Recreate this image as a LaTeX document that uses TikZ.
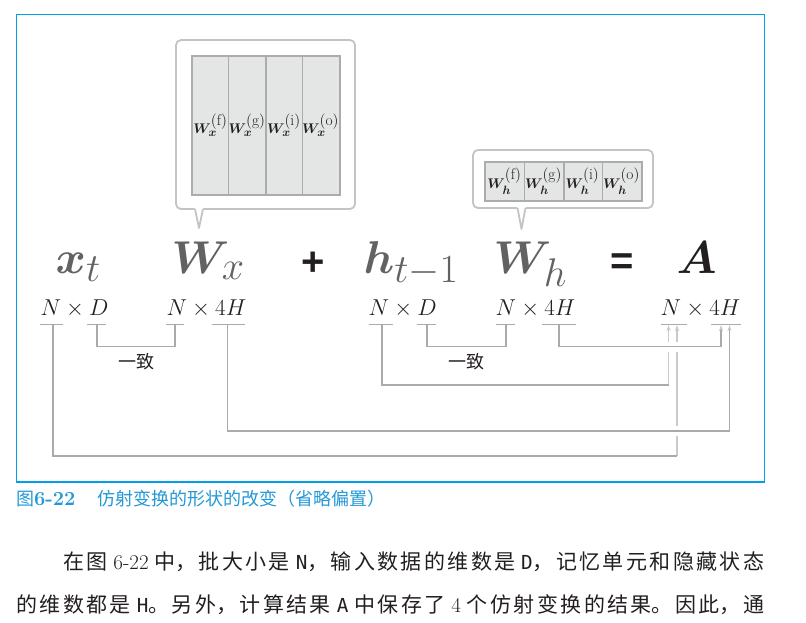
\RequirePackage{fix-cm}
\documentclass[tikz,border=0pt]{standalone}
\usepackage{fontspec}
\usepackage{amsmath,bm}
\usetikzlibrary{arrows.meta}
\newfontfamily\cjk{Noto Sans CJK SC}
\newfontfamily\opfont{Liberation Sans}
\newfontfamily\monof[Scale=0.92]{DejaVu Sans Mono}
\newcommand\bigsub[1]{\hbox{\fontsize{40}{44}\selectfont$#1$}}
\newcommand\smsup[1]{\hbox{\fontsize{15.5}{16}\selectfont$(\mathrm{#1})$}}
\newcommand\smsub[1]{\hbox{\fontsize{12}{13}\selectfont$\bm{#1}$}}
\definecolor{frameblue}{RGB}{0,160,233}
\definecolor{capblue}{RGB}{35,152,214}
\definecolor{mgray}{RGB}{98,98,98}
\definecolor{ink}{RGB}{35,31,32}
\definecolor{cline}{RGB}{168,170,172}
\definecolor{clinel}{RGB}{200,202,204}
\definecolor{callb}{RGB}{196,196,196}
\definecolor{cellf}{RGB}{228,229,229}
\definecolor{cellb}{RGB}{172,172,172}
\tikzset{
  bigmath/.style={inner sep=0pt, text=mgray, font=\fontsize{46}{50}\selectfont},
  dimlab/.style={inner sep=0pt, text=ink, font=\fontsize{23}{26}\selectfont},
  opsym/.style={inner sep=0pt, text=ink, font=\opfont\bfseries\fontsize{40}{44}\selectfont},
  callout/.style={draw=callb, line width=1.8pt, fill=white, rounded corners=5pt},
  tail/.style={draw=callb, line width=1.8pt, line join=round},
  cell/.style={draw=cellb, line width=1pt, fill=cellf, inner sep=0pt, text=ink, font=\fontsize{14}{16}\selectfont},
  gridedge/.style={draw=cellb, line width=2pt},
  conn/.style={draw=cline, line width=1.1pt},
  connl/.style={draw=clinel, line width=1.1pt},
  tipped/.style={-{Stealth[length=6pt,width=4pt,color=clinel]}},
  uline/.style={draw=cline, line width=1pt},
  gap/.style={draw=white, line width=10pt},
  agree/.style={inner sep=0pt, text=ink, font=\cjk\fontsize{18}{20}\selectfont},
  body/.style={inner sep=0pt, text=ink, anchor=base west},
}
\begin{document}
\begin{tikzpicture}[x=1pt,y=-1pt]
\useasboundingbox (0,0) rectangle (806,622);
\draw[frameblue, line width=1.3pt] (16.5,14.5) rectangle (764.5,482);

% ---- callout 1 (W_x)
\draw[callout] (176,40) rectangle (355,209);
\fill[white] (194.4,206.5) -- (203.6,206.5) -- (199,226) -- cycle;
\draw[tail] (195,209) -- (199,228) -- (203,209);
\foreach \i/\s in {1/f,2/g,3/i,4/o}
  \node[cell, minimum width=36.75pt, minimum height=138pt] (wx\i) at ({192+36.75*(\i-0.5)},125) {$\bm{W}_{\smsub{x}}^{\smsup{\s}}$};
\draw[gridedge] (wx1.north west) rectangle (wx4.south east);
\draw[gridedge] (wx2.north east) -- (wx2.south east);

% ---- callout 2 (W_h)
\draw[callout] (473,150) rectangle (653,208);
\fill[white] (516.9,205.5) -- (526.1,205.5) -- (521.5,226) -- cycle;
\draw[tail] (517.5,208) -- (521.5,229) -- (525.5,208);
\foreach \i/\s in {1/f,2/g,3/i,4/o}
  \node[cell, minimum width=39pt, minimum height=38pt] (wh\i) at ({485+39*(\i-0.5)},181) {$\bm{W}_{\smsub{h}}^{\smsup{\s}}$};
\draw[gridedge] (wh1.north west) rectangle (wh4.south east);
\draw[gridedge] (wh2.north east) -- (wh2.south east);

% ---- equation
\node[bigmath, anchor=base west] (xt) at (55.5,273) {$\bm{x}_{\bigsub{t}}$};
\node[bigmath, anchor=base west] (wx) at (171.5,273) {$\bm{W}_{\bigsub{x}}$};
\node[opsym, anchor=base] (plus) at (313,275) {+};
\node[bigmath, anchor=base west] (ht) at (363.5,273) {$\bm{h}_{\bigsub{t{-}1}}$};
\node[bigmath, anchor=base west] (wh) at (493.5,273) {$\bm{W}_{\raisebox{-7pt}{\fontsize{40}{44}\selectfont$h$}}$};
\node[opsym, anchor=base] (eq) at (622,274) {=};
\node[bigmath, anchor=base west, text=ink] (A) at (676.5,273) {$\bm{A}$};

% ---- shapes
\node[dimlab, anchor=base west] (d1) at (40.5,315) {$N\times D$};
\node[dimlab, anchor=base west] (d2) at (166.5,315) {$N\times 4H$};
\node[dimlab, anchor=base west] (d3) at (368.5,315) {$N\times D$};
\node[dimlab, anchor=base west] (d4) at (495.5,315) {$N\times 4H$};
\node[dimlab, anchor=base west] (d5) at (660.5,315) {$N\times 4H$};

% underline ticks
\coordinate (u1n) at (53,324);  \coordinate (u1d) at (97,324);
\coordinate (u2n) at (175,324); \coordinate (u2h) at (227.5,324);
\coordinate (u3n) at (382,324); \coordinate (u3d) at (427,324);
\coordinate (u4n) at (506,324); \coordinate (u4h) at (559,324);
\coordinate (a1) at (668.5,325); \coordinate (a2) at (677,325);
\coordinate (a3) at (721,325);   \coordinate (a4) at (729.5,325);

\draw[uline] (40,324) -- (63,324);   \draw[uline] (86.5,324) -- (106,324);
\draw[uline] (166,324) -- (184,324); \draw[uline] (211.5,324) -- (245,324);
\draw[uline] (369,324) -- (393,324); \draw[uline] (416.5,324) -- (436,324);
\draw[uline] (496,324) -- (515,324); \draw[uline] (541.5,324) -- (576,324);
\draw[uline] (660.5,324) -- (687,324); \draw[uline] (711,324) -- (741,324);

% light verticals into A (N part)
\coordinate (k1) at (668.5,385);
\coordinate (k2) at (677,456);
\draw[connl, tipped] (k1) -- (a1);
\draw[connl, tipped] (k2) -- (a2);
% crossing gaps
\draw[gap] (663,346.5) -- (683,346.5);
\draw[gap] (672,431) -- (682,431);

% brackets "一致"
\draw[conn] (u1d) -- ++(0,22.5) -| (u2n);
\draw[conn] (u3d) -- ++(0,22.5) -| (u4n);
\node[agree] (ag1) at (136,362) {一致};
\node[agree] (ag2) at (466.5,362) {一致};

% connectors to A
\draw[conn] (u3n) |- (k1);
\draw[conn] (u1n) |- (k2);
\draw[conn, tipped] (u4h) -- ++(0,22.5) -| (a3);
\draw[conn, tipped] (u2h) -- ++(0,107) -| (a4);

% ---- caption and body text
\node[body, text=capblue] (cap) at (16,505) {\cjk\fontsize{18}{20}\selectfont 图{\rmfamily\bfseries\fontsize{20}{22}\selectfont 6-22}\hspace{1.2em}仿射变换的形状的改变（省略偏置）};
\node[body] (p1) at (63,569) {\parbox[b]{701pt}{\cjk\fontsize{21}{24}\selectfont\XeTeXlinebreaklocale "zh"\XeTeXlinebreakskip=0pt plus 5pt\tolerance=9999\parfillskip=0pt 在图 {\rmfamily 6-22} 中，批大小是 {\monof N}，输入数据的维数是 {\monof D}，记忆单元和隐藏状态}};
\node[body] (p2) at (16,612) {\parbox[b]{748pt}{\cjk\fontsize{21}{24}\selectfont\XeTeXlinebreaklocale "zh"\XeTeXlinebreakskip=0pt plus 5pt\tolerance=9999\parfillskip=0pt 的维数都是 {\monof H}。另外，计算结果 {\monof A} 中保存了 {\rmfamily 4} 个仿射变换的结果。因此，通}};
\end{tikzpicture}
\end{document}
